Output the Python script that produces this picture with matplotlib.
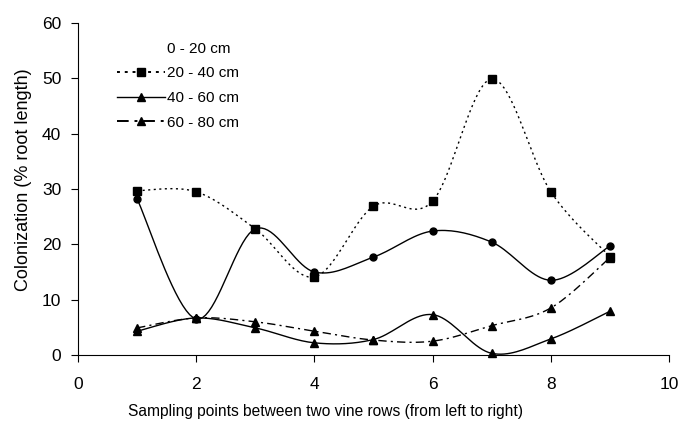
import numpy as np
import matplotlib.pyplot as plt
from matplotlib.lines import Line2D

plt.rcParams['font.family'] = ['Liberation Sans', 'DejaVu Sans']

points = [1, 2, 3, 4, 5, 6, 7, 8, 9]
depth_0_20 = [28.2, 6.5, 22.8, 15.0, 17.7, 22.4, 20.4, 13.5, 19.7]
depth_20_40 = [29.7, 29.5, 22.8, 14.1, 26.9, 27.8, 49.9, 29.5, 17.8]
depth_40_60 = [4.3, 6.7, 4.9, 2.2, 2.8, 7.3, 0.3, 2.9, 7.9]
depth_60_80 = [4.9, 6.7, 6.0, 4.3, 2.7, 2.5, 5.3, 8.5, 17.6]
labels = ['0 - 20 cm', '20 - 40 cm', '40 - 60 cm', '60 - 80 cm']


def smooth(x, y, n=20):
    # Catmull-Rom curve through the points (like Excel's smoothed line)
    x = np.asarray(x, float)
    y = np.asarray(y, float)
    px = np.concatenate([[x[0]], x, [x[-1]]])
    py = np.concatenate([[y[0]], y, [y[-1]]])
    xs, ys = [], []
    t = np.linspace(0, 1, n)
    for i in range(1, len(px) - 2):
        for arr, out in ((px, xs), (py, ys)):
            p0, p1, p2, p3 = arr[i - 1], arr[i], arr[i + 1], arr[i + 2]
            out.extend(0.5 * ((2 * p1) + (-p0 + p2) * t
                              + (2 * p0 - 5 * p1 + 4 * p2 - p3) * t ** 2
                              + (-p0 + 3 * p1 - 3 * p2 + p3) * t ** 3))
    return xs, ys


fig = plt.figure(figsize=(6.83, 4.25), dpi=100)
ax = fig.add_axes([0.1142, 0.1647, 0.8653, 0.7812])

series = [
    (depth_0_20, '-', 'o'),
    (depth_20_40, (0, (1.5, 2.5)), 's'),
    (depth_40_60, '-', '^'),
    (depth_60_80, (0, (6, 3, 1.5, 3)), '^'),
]
for vals, ls, mk in series:
    sx, sy = smooth(points, vals)
    ax.plot(sx, sy, color='black', linestyle=ls, linewidth=1.0, clip_on=False)
    ax.plot(points, vals, linestyle='none', marker=mk, color='black',
            markersize=5.5 if mk != 'o' else 5, clip_on=False, zorder=3)

ax.set_xlim(0, 10)
ax.set_ylim(0, 60)
ax.set_xticks([0, 2, 4, 6, 8, 10])
ax.set_yticks([0, 10, 20, 30, 40, 50, 60])
ax.spines['top'].set_visible(False)
ax.spines['right'].set_visible(False)
ax.tick_params(direction='out', length=5, width=0.8, labelsize=12.5)
ax.tick_params(axis='x', pad=11)
ax.tick_params(axis='y', pad=7)
ax.set_xlabel('Sampling points between two vine rows (from left to right)',
              fontsize=11.2)
ax.xaxis.set_label_coords(0.418, -0.148)
ax.set_ylabel('Colonization (% root length)', fontsize=13)
ax.yaxis.set_label_coords(-0.078, 0.527)

handles = [
    Line2D([], [], linestyle='none'),
    Line2D([], [], color='black', linestyle=(0, (1.5, 2.5)), marker='s',
           markersize=5.5, linewidth=1.4),
    Line2D([], [], color='black', linestyle='-', marker='^',
           markersize=5.5, linewidth=1.0),
    Line2D([], [], color='black', linestyle=(0, (6, 3, 1.5, 3)), marker='^',
           markersize=5.5, linewidth=1.4),
]
ax.legend(handles, labels, loc='upper left', bbox_to_anchor=(0.043, 0.985),
          frameon=False, fontsize=11, handlelength=3.1, handletextpad=0.15,
          labelspacing=0.7)

fig.savefig('out.png', dpi=100)
